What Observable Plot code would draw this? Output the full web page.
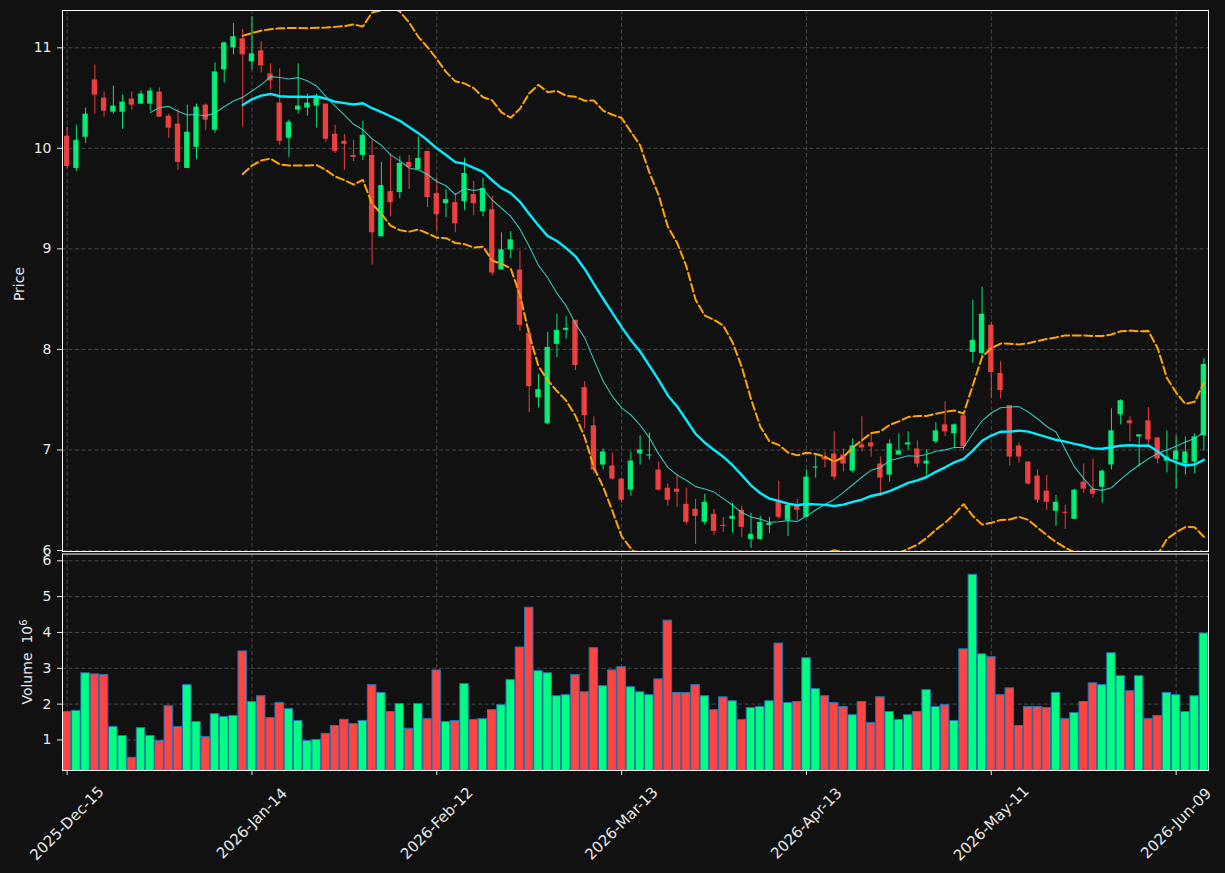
<!DOCTYPE html>
<html>
<head>
<meta charset="utf-8">
<script src="https://cdn.jsdelivr.net/npm/d3@7"></script>
<script src="https://cdn.jsdelivr.net/npm/@observablehq/plot@0.6"></script>
<style>
  body { margin: 0; background: #111111; }
  #chart { position: relative; width: 1225px; height: 873px; background: #111111; font-family: "DejaVu Sans", sans-serif; }
  #chart svg { position: absolute; left: 0; overflow: visible; }
</style>
</head>
<body>
<div id="chart"></div>
<script>
// Trading-day index of each labelled tick and its date label
const tickIndex = [0, 20, 40, 60, 80, 100, 120];
const tickLabels = ["2025-Dec-15", "2026-Jan-14", "2026-Feb-12", "2026-Mar-13", "2026-Apr-13", "2026-May-11", "2026-Jun-09"];

const priceTicks = [6, 7, 8, 9, 10, 11];
const volumeTicks = [1, 2, 3, 4, 5, 6];

// Daily OHLC prices, one entry per trading day
const open = [
  10.12, 9.80, 10.11, 10.68, 10.50, 10.36, 10.36, 10.49, 10.44, 10.44,
  10.56, 10.32, 10.24, 9.80, 10.01, 10.43, 10.18, 10.78, 11.00, 11.09,
  10.86, 10.97, 10.74, 10.45, 10.10, 10.38, 10.40, 10.42, 10.44, 10.14,
  10.07, 9.93, 9.93, 9.93, 9.12, 9.57, 9.56, 9.86, 9.79, 9.97,
  9.55, 9.45, 9.46, 9.47, 9.54, 9.37, 9.39, 8.79, 8.99, 8.79,
  8.16, 7.52, 7.26, 8.05, 8.19, 8.29, 7.62, 7.24, 6.85, 6.84,
  6.71, 6.60, 6.96, 6.94, 6.80, 6.62, 6.61, 6.46, 6.41, 6.28,
  6.36, 6.25, 6.31, 6.40, 6.11, 6.11, 6.25, 6.49, 6.30, 6.44,
  6.33, 6.82, 6.93, 6.96, 6.95, 6.79, 7.05, 7.07, 6.86, 6.75,
  6.95, 7.05, 7.01, 6.86, 7.08, 7.25, 7.16, 7.34, 7.97, 7.96,
  8.24, 7.76, 7.44, 7.04, 6.88, 6.74, 6.59, 6.39, 6.38, 6.31,
  6.68, 6.61, 6.63, 6.85, 7.35, 7.29, 7.13, 7.29, 7.12, 6.89,
  6.90, 6.86, 6.88, 7.14
];
const high = [
  10.21, 10.23, 10.40, 10.83, 10.56, 10.62, 10.53, 10.56, 10.57, 10.60,
  10.60, 10.34, 10.39, 10.43, 10.44, 10.44, 10.85, 11.05, 11.24, 11.18,
  11.31, 11.06, 10.84, 10.79, 10.28, 10.84, 10.54, 10.54, 10.44, 10.23,
  10.14, 10.08, 10.27, 10.08, 9.86, 9.94, 9.92, 9.93, 10.11, 9.97,
  9.71, 9.59, 9.55, 9.90, 9.67, 9.70, 9.52, 9.16, 9.17, 8.98,
  8.21, 7.75, 8.17, 8.35, 8.33, 8.29, 7.68, 7.33, 7.01, 6.97,
  6.72, 6.98, 7.14, 7.17, 6.88, 6.66, 6.74, 6.62, 6.51, 6.56,
  6.41, 6.33, 6.47, 6.44, 6.37, 6.34, 6.33, 6.69, 6.47, 6.51,
  6.80, 6.95, 6.98, 7.18, 7.01, 7.11, 7.33, 7.16, 6.93, 7.10,
  7.16, 7.18, 7.09, 7.00, 7.27, 7.48, 7.26, 7.36, 8.49, 8.62,
  8.27, 7.88, 7.44, 7.07, 6.88, 6.80, 6.75, 6.55, 6.45, 6.61,
  6.86, 6.91, 6.80, 7.41, 7.50, 7.33, 7.15, 7.42, 7.12, 7.19,
  7.14, 7.13, 7.16, 7.91
];
const low = [
  9.80, 9.77, 10.05, 10.34, 10.31, 10.34, 10.19, 10.38, 10.44, 10.37,
  10.31, 10.10, 9.78, 9.80, 9.89, 10.18, 10.15, 10.65, 10.93, 10.21,
  10.78, 10.75, 10.58, 10.03, 9.91, 10.34, 10.32, 10.20, 10.06, 9.95,
  9.78, 9.87, 9.88, 8.84, 9.12, 9.32, 9.50, 9.59, 9.79, 9.41,
  9.17, 9.31, 9.16, 9.38, 9.33, 9.32, 8.73, 8.79, 8.90, 8.18,
  7.37, 7.42, 7.25, 7.92, 8.10, 7.79, 7.21, 6.76, 6.80, 6.70,
  6.47, 6.54, 6.85, 6.90, 6.59, 6.44, 6.43, 6.25, 6.06, 6.25,
  6.15, 6.18, 6.17, 6.13, 6.02, 6.10, 6.17, 6.31, 6.14, 6.30,
  6.33, 6.72, 6.82, 6.70, 6.78, 6.77, 6.98, 6.93, 6.54, 6.68,
  6.95, 7.00, 6.82, 6.74, 7.06, 7.13, 7.02, 6.99, 7.86, 7.92,
  7.51, 7.51, 6.84, 6.87, 6.65, 6.47, 6.40, 6.24, 6.21, 6.31,
  6.57, 6.52, 6.47, 6.80, 7.25, 7.08, 6.83, 7.04, 6.86, 6.77,
  6.61, 6.75, 6.76, 6.99
];
const close = [
  9.82, 10.08, 10.34, 10.53, 10.37, 10.42, 10.46, 10.43, 10.54, 10.57,
  10.31, 10.20, 9.86, 10.16, 10.41, 10.28, 10.76, 11.05, 11.11, 10.93,
  10.94, 10.82, 10.67, 10.07, 10.26, 10.42, 10.45, 10.51, 10.09, 9.97,
  10.04, 9.91, 10.13, 9.16, 9.63, 9.46, 9.85, 9.81, 9.90, 9.51,
  9.34, 9.49, 9.25, 9.75, 9.45, 9.60, 8.76, 8.99, 9.09, 8.24,
  7.63, 7.60, 8.02, 8.19, 8.21, 7.84, 7.34, 6.80, 6.98, 6.71,
  6.50, 6.89, 7.00, 6.95, 6.60, 6.50, 6.58, 6.28, 6.34, 6.48,
  6.19, 6.24, 6.34, 6.23, 6.16, 6.28, 6.27, 6.33, 6.45, 6.40,
  6.73, 6.83, 6.90, 6.73, 6.86, 7.04, 7.02, 7.03, 6.72, 7.06,
  6.99, 7.07, 6.86, 6.89, 7.19, 7.18, 7.25, 7.03, 8.09, 8.35,
  7.77, 7.59, 6.93, 6.93, 6.66, 6.50, 6.48, 6.48, 6.37, 6.60,
  6.61, 6.56, 6.79, 7.19, 7.49, 7.26, 7.15, 7.10, 6.91, 6.93,
  6.99, 6.98, 7.13, 7.85
];
// Daily traded volume, in millions of shares
const volume = [
  1.78, 1.81, 2.86, 2.83, 2.81, 1.36, 1.11, 0.50, 1.33, 1.11,
  0.97, 1.94, 1.36, 2.53, 1.50, 1.08, 1.72, 1.64, 1.67, 3.47,
  2.06, 2.22, 1.61, 2.03, 1.86, 1.53, 0.97, 1.00, 1.17, 1.39,
  1.56, 1.44, 1.53, 2.53, 2.31, 1.78, 2.00, 1.31, 2.00, 1.58,
  2.94, 1.50, 1.53, 2.56, 1.56, 1.58, 1.83, 1.97, 2.67, 3.58,
  4.69, 2.92, 2.86, 2.22, 2.25, 2.81, 2.33, 3.56, 2.50, 2.94,
  3.03, 2.47, 2.33, 2.25, 2.69, 4.33, 2.31, 2.31, 2.53, 2.22,
  1.83, 2.19, 2.08, 1.56, 1.89, 1.92, 2.08, 3.69, 2.03, 2.06,
  3.28, 2.42, 2.22, 2.03, 1.92, 1.69, 2.06, 1.47, 2.19, 1.78,
  1.56, 1.69, 1.78, 2.39, 1.92, 1.97, 1.53, 3.53, 5.61, 3.39,
  3.31, 2.25, 2.44, 1.39, 1.92, 1.92, 1.89, 2.31, 1.58, 1.75,
  2.06, 2.58, 2.53, 3.42, 2.78, 2.36, 2.78, 1.58, 1.67, 2.31,
  2.25, 1.78, 2.22, 3.97
];

const UP = "#00ff80";
const DOWN = "#ff4444";
const GRID = "#484848";
const TEXT = "#e8e8e8";
const FONT = "DejaVu Sans, sans-serif";

const bars = open.map((o, i) => ({
  i, open: o, high: high[i], low: low[i], close: close[i], volume: volume[i], up: close[i] >= o
}));
const upBars = bars.filter(d => d.up);
const downBars = bars.filter(d => !d.up);

// Rolling statistics of the closing price: 10- and 20-day averages and 2-sigma bands
function windowOf(i, k) { return i >= k - 1 ? close.slice(i - k + 1, i + 1) : null; }
const studies = close.map((c, i) => {
  const w10 = windowOf(i, 10), w20 = windowOf(i, 20);
  const m20 = w20 ? d3.mean(w20) : NaN;
  const s20 = w20 ? d3.deviation(w20) : NaN;
  return {
    i,
    ma10: w10 ? d3.mean(w10) : NaN,
    ma20: m20,
    upper: m20 + 2 * s20,
    lower: m20 - 2 * s20
  };
});

const xDomain = [-0.5, 123.5];
const gridStyle = { stroke: GRID, strokeWidth: 1, strokeDasharray: "4,2.5" };

const priceChart = Plot.plot({
  width: 1225,
  height: 552,
  marginTop: 10,
  marginBottom: 1,
  marginLeft: 62,
  marginRight: 17,
  style: { background: "transparent", color: TEXT, fontSize: "14px", fontFamily: FONT, overflow: "visible" },
  x: { domain: xDomain, axis: null },
  y: { domain: [5.99, 11.371], ticks: priceTicks, tickFormat: d => String(d), tickSize: 5, tickPadding: 6, label: null },
  marks: [
    Plot.ruleY(priceTicks, gridStyle),
    Plot.ruleX(tickIndex, gridStyle),
    // candle wicks
    Plot.ruleX(upBars, { x: "i", y1: "low", y2: "high", stroke: UP, strokeOpacity: 0.9, strokeWidth: 1 }),
    Plot.ruleX(downBars, { x: "i", y1: "low", y2: "high", stroke: DOWN, strokeOpacity: 0.9, strokeWidth: 1 }),
    // candle bodies
    Plot.rect(upBars, { x1: d => d.i - 0.29, x2: d => d.i + 0.29, y1: "open", y2: "close", fill: UP, fillOpacity: 0.9 }),
    Plot.rect(downBars, { x1: d => d.i - 0.29, x2: d => d.i + 0.29, y1: "open", y2: "close", fill: DOWN, fillOpacity: 0.9 }),
    // moving averages
    Plot.line(studies, { x: "i", y: "ma10", stroke: "#40e0d0", strokeWidth: 1.1, strokeOpacity: 0.85, clip: true }),
    Plot.line(studies, { x: "i", y: "ma20", stroke: "#00eeff", strokeWidth: 2.4, clip: true }),
    // volatility bands
    Plot.line(studies, { x: "i", y: "upper", stroke: "#ffa500", strokeWidth: 2, strokeDasharray: "8,3.5", clip: true }),
    Plot.line(studies, { x: "i", y: "lower", stroke: "#ffa500", strokeWidth: 2, strokeDasharray: "8,3.5", clip: true }),
    Plot.frame({ stroke: "#ffffff" })
  ]
});

const volumeChart = Plot.plot({
  width: 1225,
  height: 321,
  marginTop: 1.5,
  marginBottom: 103,
  marginLeft: 62,
  marginRight: 17,
  style: { background: "transparent", color: TEXT, fontSize: "14px", fontFamily: FONT, overflow: "visible" },
  x: {
    domain: xDomain,
    ticks: tickIndex,
    tickFormat: () => "",
    tickSize: 5,
    label: null
  },
  y: { domain: [0.147, 6.19], ticks: volumeTicks, tickFormat: d => String(d), tickSize: 5, tickPadding: 6, label: null },
  marks: [
    Plot.ruleY(volumeTicks, gridStyle),
    Plot.ruleX(tickIndex, gridStyle),
    Plot.rect(upBars, { x1: d => d.i - 0.46, x2: d => d.i + 0.46, y1: 0, y2: "volume", fill: UP, stroke: "#1f77b4", strokeWidth: 1, clip: true }),
    Plot.rect(downBars, { x1: d => d.i - 0.46, x2: d => d.i + 0.46, y1: 0, y2: "volume", fill: DOWN, stroke: "#1f77b4", strokeWidth: 1, clip: true }),
    Plot.frame({ stroke: "#ffffff" }),
    // date labels, rotated 45° and centred under their ticks
    Plot.text(tickIndex, {
      x: d => d,
      text: d => tickLabels[tickIndex.indexOf(d)],
      frameAnchor: "bottom",
      dy: 53,
      rotate: -45,
      textAnchor: "middle",
      lineAnchor: "middle",
      fill: TEXT,
      fontSize: 15
    })
  ]
});

const root = document.getElementById("chart");
priceChart.style.top = "0px";
volumeChart.style.top = "552px";
root.appendChild(priceChart);
root.appendChild(volumeChart);

// rotated panel titles
d3.select(priceChart).append("text")
  .attr("transform", "translate(24,284) rotate(-90)")
  .attr("text-anchor", "middle")
  .attr("fill", TEXT)
  .attr("font-size", 14)
  .attr("font-family", FONT)
  .text("Price");

const vLabel = d3.select(volumeChart).append("text")
  .attr("transform", "translate(32,110) rotate(-90)")
  .attr("text-anchor", "middle")
  .attr("fill", TEXT)
  .attr("font-size", 14)
  .attr("font-family", FONT)
  .style("white-space", "pre");
vLabel.append("tspan").text("Volume  10");
vLabel.append("tspan").attr("dy", "-0.5em").attr("font-size", 10).text("6");
</script>
</body>
</html>
